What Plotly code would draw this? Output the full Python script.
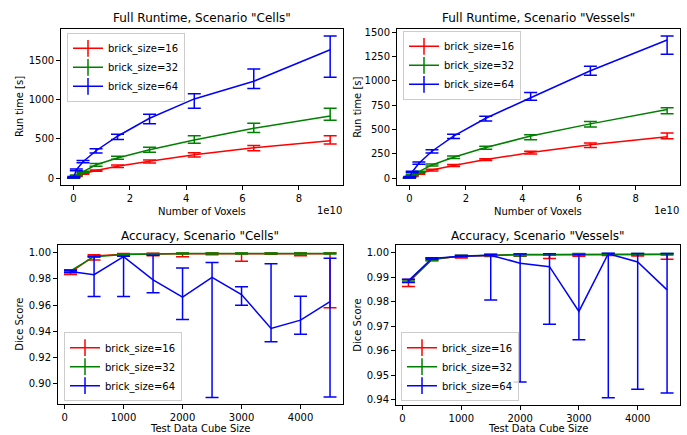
import plotly.graph_objects as go

# ---------------- data ----------------
voxels = [1e6, 1.25e8, 1e9, 3.375e9, 8e9, 1.5625e10, 2.7e10, 4.2875e10, 6.4e10, 9.1125e10]
cube_sizes = [100, 500, 1000, 1500, 2000, 2500, 3000, 3500, 4000, 4500]
labels = ["brick_size=16", "brick_size=32", "brick_size=64"]

# Runtime, scenario "Cells"
rt_cells_16 = [1, 6, 25, 55, 97, 152, 216, 300, 389, 478]
rt_cells_16_up = [1, 2, 4, 6, 8, 17, 16, 25, 29, 63]
rt_cells_16_dn = [1, 2, 4, 6, 8, 17, 22, 30, 38, 43]
rt_cells_32 = [1, 8, 35, 80, 170, 258, 363, 486, 638, 795]
rt_cells_32_up = [1, 2, 5, 8, 18, 20, 30, 55, 64, 97]
rt_cells_32_dn = [1, 2, 5, 8, 18, 18, 33, 42, 55, 55]
rt_cells_64 = [2, 15, 105, 210, 350, 535, 765, 1012, 1238, 1640]
rt_cells_64_up = [2, 5, 12, 15, 25, 27, 50, 66, 157, 177]
rt_cells_64_dn = [2, 5, 12, 15, 30, 40, 70, 120, 93, 351]

# Runtime, scenario "Vessels"
rt_ves_16 = [1, 5, 20, 44, 82, 130, 190, 262, 343, 425]
rt_ves_16_up = [1, 2, 4, 5, 8, 10, 10, 14, 18, 38]
rt_ves_16_dn = [1, 2, 4, 5, 8, 10, 10, 14, 27, 20]
rt_ves_32 = [1, 7, 30, 65, 135, 214, 314, 432, 558, 707]
rt_ves_32_up = [1, 2, 4, 6, 10, 12, 14, 14, 24, 17]
rt_ves_32_dn = [1, 2, 4, 6, 10, 12, 18, 37, 31, 44]
rt_ves_64 = [2, 12, 63, 153, 276, 432, 616, 827, 1105, 1422]
rt_ves_64_up = [2, 4, 8, 12, 15, 18, 20, 54, 45, 41]
rt_ves_64_dn = [2, 4, 8, 12, 18, 24, 28, 27, 47, 146]

# Accuracy, scenario "Cells"
acc_cells_16 = [0.9850, 0.9975, 0.9988, 0.9992, 0.9992, 0.9993, 0.9992, 0.9993, 0.9993, 0.9993]
acc_cells_16_up = [0.0012, 0.0010, 0.0006, 0.0004, 0.0004, 0.0004, 0.0004, 0.0004, 0.0004, 0.0004]
acc_cells_16_dn = [0.0017, 0.0031, 0.0008, 0.0015, 0.0022, 0.0008, 0.0058, 0.0005, 0.0016, 0.0413]
acc_cells_32 = [0.9862, 0.9970, 0.9987, 0.9992, 0.9994, 0.9994, 0.9994, 0.9994, 0.9994, 0.9994]
acc_cells_32_up = [0.0008, 0.0005, 0.0004, 0.0003, 0.0003, 0.0003, 0.0003, 0.0003, 0.0003, 0.0003]
acc_cells_32_dn = [0.0008, 0.0005, 0.0004, 0.0003, 0.0003, 0.0003, 0.0003, 0.0003, 0.0003, 0.0003]
acc_cells_64 = [0.9857, 0.9832, 0.9970, 0.9792, 0.9660, 0.9812, 0.9680, 0.9421, 0.9485, 0.9627]
acc_cells_64_up = [0.0010, 0.0140, 0.0003, 0.0188, 0.0223, 0.0114, 0.0061, 0.0495, 0.0182, 0.0330]
acc_cells_64_dn = [0.0010, 0.0167, 0.0305, 0.0097, 0.0170, 0.0919, 0.0081, 0.0101, 0.0107, 0.0729]

# Accuracy, scenario "Vessels"
acc_ves_16 = [0.9878, 0.9972, 0.9986, 0.9990, 0.9992, 0.9992, 0.9993, 0.9993, 0.9993, 0.9993]
acc_ves_16_up = [0.0012, 0.0005, 0.0003, 0.0003, 0.0003, 0.0003, 0.0003, 0.0003, 0.0003, 0.0003]
acc_ves_16_dn = [0.0016, 0.0004, 0.0008, 0.0006, 0.0006, 0.0016, 0.0007, 0.0004, 0.0006, 0.0020]
acc_ves_32 = [0.9884, 0.9973, 0.9987, 0.9991, 0.9993, 0.9993, 0.9994, 0.9994, 0.9994, 0.9994]
acc_ves_32_up = [0.0004, 0.0004, 0.0003, 0.0003, 0.0003, 0.0003, 0.0003, 0.0003, 0.0003, 0.0003]
acc_ves_32_dn = [0.0004, 0.0006, 0.0003, 0.0003, 0.0006, 0.0003, 0.0003, 0.0003, 0.0004, 0.0003]
acc_ves_64 = [0.9885, 0.9976, 0.9986, 0.9990, 0.9957, 0.9943, 0.9760, 0.9996, 0.9962, 0.9848]
acc_ves_64_up = [0.0007, 0.0003, 0.0003, 0.0003, 0.0038, 0.0053, 0.0233, 0.0002, 0.0035, 0.0149]
acc_ves_64_dn = [0.0007, 0.0003, 0.0003, 0.0183, 0.0485, 0.0235, 0.0116, 0.0589, 0.0520, 0.0421]

titles = ['Full Runtime, Scenario "Cells"', 'Full Runtime, Scenario "Vessels"',
          'Accuracy, Scenario "Cells"', 'Accuracy, Scenario "Vessels"']
colors = ["#ff0000", "#008000", "#0000ff"]

# ---------------- layout geometry (pixels) ----------------
W, H = 687, 435
FONT = "DejaVu Sans"
TICK_FS = 10
LABEL_FS = 10
TITLE_FS = 12
LEGEND_FS = 10
boxes = {  # left, right, top, bottom in px
    1: (60.7, 343, 27, 184),
    2: (396.5, 680, 27, 184),
    3: (57.5, 343, 244, 404),
    4: (395.5, 680, 244, 405),
}

def px(x):
    return x / W

def py(y):
    return 1 - y / H

fig = go.Figure()

panels = [
    (1, voxels, [(rt_cells_16, rt_cells_16_up, rt_cells_16_dn),
                 (rt_cells_32, rt_cells_32_up, rt_cells_32_dn),
                 (rt_cells_64, rt_cells_64_up, rt_cells_64_dn)]),
    (2, voxels, [(rt_ves_16, rt_ves_16_up, rt_ves_16_dn),
                 (rt_ves_32, rt_ves_32_up, rt_ves_32_dn),
                 (rt_ves_64, rt_ves_64_up, rt_ves_64_dn)]),
    (3, cube_sizes, [(acc_cells_16, acc_cells_16_up, acc_cells_16_dn),
                     (acc_cells_32, acc_cells_32_up, acc_cells_32_dn),
                     (acc_cells_64, acc_cells_64_up, acc_cells_64_dn)]),
    (4, cube_sizes, [(acc_ves_16, acc_ves_16_up, acc_ves_16_dn),
                     (acc_ves_32, acc_ves_32_up, acc_ves_32_dn),
                     (acc_ves_64, acc_ves_64_up, acc_ves_64_dn)]),
]

for idx, xs, series in panels:
    xa = "x" if idx == 1 else f"x{idx}"
    ya = "y" if idx == 1 else f"y{idx}"
    leg = "legend" if idx == 1 else f"legend{idx}"
    for (ys, up, dn), col, lab in zip(series, colors, labels):
        fig.add_trace(go.Scatter(
            x=xs, y=ys, mode="lines", xaxis=xa, yaxis=ya,
            line=dict(color=col, width=1.5), showlegend=False,
            error_y=dict(type="data", symmetric=False, array=up, arrayminus=dn,
                         color=col, thickness=1.5, width=6.5),
        ))
    for col, lab in zip(colors, labels):
        fig.add_trace(go.Scatter(
            x=[None], y=[None], mode="lines+markers", xaxis=xa, yaxis=ya,
            name=lab, legend=leg,
            line=dict(color=col, width=1.5),
            marker=dict(symbol="line-ns", size=12, line=dict(color=col, width=1.5)),
        ))

axis_common = dict(showline=True, mirror=True, linecolor="black", linewidth=1,
                   ticks="outside", ticklen=3.5, tickwidth=1, tickcolor="black",
                   showgrid=False, zeroline=False,
                   tickfont=dict(family=FONT, size=TICK_FS, color="black"))

layout = dict(width=W, height=H, margin=dict(l=0, r=0, t=0, b=0),
              paper_bgcolor="white", plot_bgcolor="white",
              font=dict(family=FONT, color="black"))

ranges = {
    1: ([-0.4546e10, 9.568e10], [-90, 1907]),
    2: ([-0.4546e10, 9.568e10], [-73, 1536]),
    3: ([-120, 4720], [0.8843, 1.006]),
    4: ([-120, 4720], [0.9377, 1.0032]),
}
xticks = {
    1: ([0, 2e10, 4e10, 6e10, 8e10], ["0", "2", "4", "6", "8"]),
    2: ([0, 2e10, 4e10, 6e10, 8e10], ["0", "2", "4", "6", "8"]),
    3: ([0, 1000, 2000, 3000, 4000], ["0", "1000", "2000", "3000", "4000"]),
    4: ([0, 1000, 2000, 3000, 4000], ["0", "1000", "2000", "3000", "4000"]),
}
yticks = {
    1: ([0, 500, 1000, 1500], ["0", "500", "1000", "1500"]),
    2: ([0, 250, 500, 750, 1000, 1250, 1500], ["0", "250", "500", "750", "1000", "1250", "1500"]),
    3: ([0.90, 0.92, 0.94, 0.96, 0.98, 1.00], ["0.90", "0.92", "0.94", "0.96", "0.98", "1.00"]),
    4: ([0.94, 0.95, 0.96, 0.97, 0.98, 0.99, 1.00], ["0.94", "0.95", "0.96", "0.97", "0.98", "0.99", "1.00"]),
}

for idx, (l, r, t, b) in boxes.items():
    xk = "xaxis" if idx == 1 else f"xaxis{idx}"
    yk = "yaxis" if idx == 1 else f"yaxis{idx}"
    ya = "y" if idx == 1 else f"y{idx}"
    xa = "x" if idx == 1 else f"x{idx}"
    layout[xk] = dict(axis_common, domain=[px(l), px(r)], anchor=ya,
                      range=ranges[idx][0], tickvals=xticks[idx][0], ticktext=xticks[idx][1])
    layout[yk] = dict(axis_common, domain=[py(b), py(t)], anchor=xa,
                      range=ranges[idx][1], tickvals=yticks[idx][0], ticktext=yticks[idx][1])

legend_style = dict(bgcolor="rgba(255,255,255,0.8)", bordercolor="#cccccc", borderwidth=1,
                    font=dict(family=FONT, size=LEGEND_FS, color="black"),
                    itemwidth=30, tracegroupgap=0, xanchor="left")
layout["legend"] = dict(legend_style, x=px(67), y=py(31), yanchor="top")
layout["legend2"] = dict(legend_style, x=px(403), y=py(29), yanchor="top")
layout["legend3"] = dict(legend_style, x=px(64), y=py(401), yanchor="bottom")
layout["legend4"] = dict(legend_style, x=px(401), y=py(401), yanchor="bottom")

annotations = []
def ann(text, x, y, size, xanchor="center", angle=0):
    annotations.append(dict(text=text, x=px(x), y=py(y), xref="paper", yref="paper",
                            showarrow=False, xanchor=xanchor, yanchor="middle",
                            textangle=angle, font=dict(family=FONT, size=size, color="black")))

title_y = {1: 16.5, 2: 16.5, 3: 235, 4: 235}
for idx, (l, r, t, b) in boxes.items():
    ann(titles[idx - 1], (l + r) / 2, title_y[idx], TITLE_FS)

ann("Number of Voxels", (boxes[1][0] + boxes[1][1]) / 2, 210, LABEL_FS)
ann("Number of Voxels", (boxes[2][0] + boxes[2][1]) / 2, 210, LABEL_FS)
ann("Test Data Cube Size", (boxes[3][0] + boxes[3][1]) / 2, 428.5, LABEL_FS)
ann("Test Data Cube Size", (boxes[4][0] + boxes[4][1]) / 2, 428.5, LABEL_FS)
ann("Run time [s]", 19, (boxes[1][2] + boxes[1][3]) / 2, LABEL_FS, angle=-90)
ann("Run time [s]", 356.7, (boxes[2][2] + boxes[2][3]) / 2, LABEL_FS, angle=-90)
ann("Dice Score", 19.3, (boxes[3][2] + boxes[3][3]) / 2, LABEL_FS, angle=-90)
ann("Dice Score", 356.7, (boxes[4][2] + boxes[4][3]) / 2, LABEL_FS, angle=-90)
ann("1e10", 343.5, 209, TICK_FS, xanchor="right")
ann("1e10", 680.5, 209, TICK_FS, xanchor="right")
layout["annotations"] = annotations

fig.update_layout(**layout)
fig.write_html("out.html",
               config={"displayModeBar": False},
               post_script="document.body.style.margin='0';document.body.style.padding='0';")
